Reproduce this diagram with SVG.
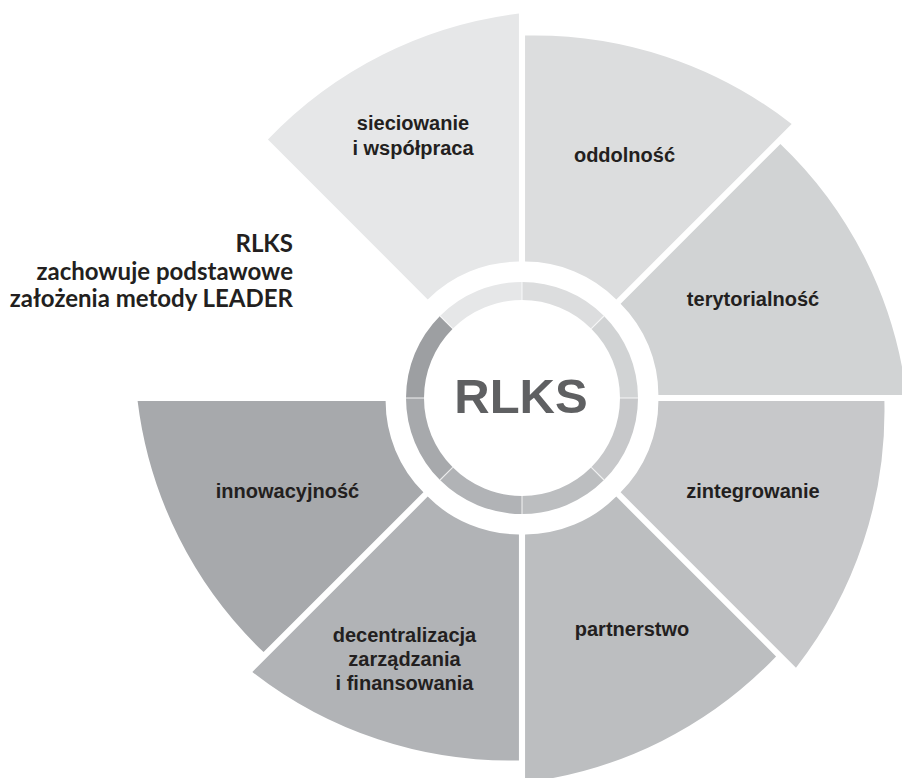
<svg xmlns="http://www.w3.org/2000/svg" width="902" height="778" viewBox="0 0 902 778">
<style>
.lbl{font-family:"Liberation Sans",Arial,sans-serif;font-weight:bold;font-size:20px;fill:#231f20;text-anchor:middle}
.side{font-family:Lato,"Open Sans",sans-serif;font-weight:bold;font-size:24px;fill:#231f20;text-anchor:end}
.seg{fill:none;stroke-width:18}
.sep{stroke:#ffffff;stroke-width:1.2;stroke-opacity:0.7}
</style>
<rect width="902" height="778" fill="#ffffff"/>
<g id="wedges">
<g id="oddolnosc">
<path fill="#dcddde" d="M525.06,261.61 L525.06,35.61 A417,417 0 0 1 791.64,124.03 L616.28,299.39 A129,129 0 0 0 525.06,261.61 Z"/>
<text class="lbl" x="624.5" y="162">oddolność</text>
</g>
<g id="terytorialnosc">
<path fill="#d1d3d4" d="M620.61,303.72 L780.41,143.92 A417,417 0 0 1 906.39,394.94 L658.39,394.94 A129,129 0 0 0 620.61,303.72 Z"/>
<text class="lbl" x="753" y="306">terytorialność</text>
</g>
<g id="zintegrowanie">
<path fill="#c7c8ca" d="M658.39,401.06 L884.39,401.06 A417,417 0 0 1 795.97,667.64 L620.61,492.28 A129,129 0 0 0 658.39,401.06 Z"/>
<text class="lbl" x="753" y="498">zintegrowanie</text>
</g>
<g id="partnerstwo">
<path fill="#bcbec0" d="M616.28,496.61 L776.08,656.41 A417,417 0 0 1 525.06,782.39 L525.06,534.39 A129,129 0 0 0 616.28,496.61 Z"/>
<text class="lbl" x="632" y="636">partnerstwo</text>
</g>
<g id="decentralizacja">
<path fill="#b1b3b6" d="M518.94,534.39 L518.94,760.39 A417,417 0 0 1 252.36,671.97 L427.72,496.61 A129,129 0 0 0 518.94,534.39 Z"/>
<text class="lbl" x="404.5" y="642">decentralizacja</text>
<text class="lbl" x="404.5" y="666">zarządzania</text>
<text class="lbl" x="404.5" y="690">i finansowania</text>
</g>
<g id="innowacyjnosc">
<path fill="#a7a9ac" d="M423.39,492.28 L263.59,652.08 A417,417 0 0 1 137.61,401.06 L385.61,401.06 A129,129 0 0 0 423.39,492.28 Z"/>
<text class="lbl" x="287.5" y="498">innowacyjność</text>
</g>
<g id="sieciowanie">
<path fill="#e6e7e8" d="M427.72,299.39 L267.92,139.59 A417,417 0 0 1 518.94,13.61 L518.94,261.61 A129,129 0 0 0 427.72,299.39 Z"/>
<text class="lbl" x="413" y="130">sieciowanie</text>
<text class="lbl" x="413" y="155">i współpraca</text>
</g>
</g>
<g id="center">
<g id="ring">
<path class="seg" stroke="#dcddde" d="M522,291 A107,107 0 0 1 597.66,322.34"/>
<path class="seg" stroke="#d1d3d4" d="M597.66,322.34 A107,107 0 0 1 629,398"/>
<path class="seg" stroke="#c7c8ca" d="M629,398 A107,107 0 0 1 597.66,473.66"/>
<path class="seg" stroke="#bcbec0" d="M597.66,473.66 A107,107 0 0 1 522,505"/>
<path class="seg" stroke="#b1b3b6" d="M522,505 A107,107 0 0 1 446.34,473.66"/>
<path class="seg" stroke="#a7a9ac" d="M446.34,473.66 A107,107 0 0 1 415,398"/>
<path class="seg" stroke="#9d9fa2" d="M415,398 A107,107 0 0 1 446.34,322.34"/>
<path class="seg" stroke="#e6e7e8" d="M446.34,322.34 A107,107 0 0 1 522,291"/>
<line class="sep" x1="522" y1="300" x2="522" y2="282"/>
<line class="sep" x1="591.3" y1="328.7" x2="604" y2="316"/>
<line class="sep" x1="620" y1="398" x2="638" y2="398"/>
<line class="sep" x1="591.3" y1="467.3" x2="604" y2="480"/>
<line class="sep" x1="522" y1="496" x2="522" y2="514"/>
<line class="sep" x1="452.7" y1="467.3" x2="440" y2="480"/>
<line class="sep" x1="424" y1="398" x2="406" y2="398"/>
<line class="sep" x1="452.7" y1="328.7" x2="440" y2="316"/>
</g>
<text x="521" y="413" font-family="Liberation Sans, Arial, sans-serif" font-weight="bold" font-size="49" fill="#5f6062" text-anchor="middle">RLKS</text>
</g>
<g id="side-note">
<text class="side" x="293" y="252">RLKS</text>
<text class="side" x="293" y="279.5">zachowuje podstawowe</text>
<text class="side" x="293" y="307">założenia metody LEADER</text>
</g>
</svg>
